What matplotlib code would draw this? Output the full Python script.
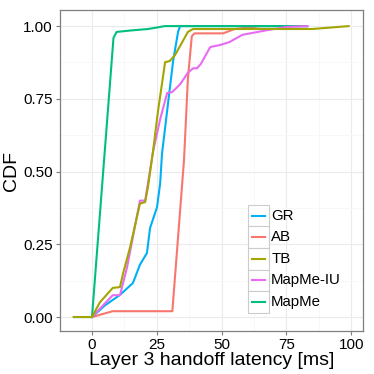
import numpy as np
import matplotlib.pyplot as plt
from matplotlib.patches import Rectangle

plt.rcParams['font.family'] = ['Liberation Sans', 'DejaVu Sans']

# CDF curves (latency in ms, cumulative fraction)
gr_x = [0, 5, 10.8, 15.8, 18.5, 21.2, 22.4, 25.1, 26.3, 27, 29, 31.3, 33.2, 34, 83]
gr_y = [0, 0.04, 0.076, 0.117, 0.18, 0.22, 0.306, 0.378, 0.46, 0.56, 0.71, 0.88, 0.98, 1.0, 1.0]

ab_x = [0, 8, 31, 35.5, 37, 38.5, 39.5, 50.6, 55, 65, 83]
ab_y = [0, 0.02, 0.02, 0.54, 0.82, 0.965, 0.975, 0.975, 0.99, 1.0, 1.0]

tb_x = [-7, 0, 3, 8, 10.8, 12, 14.7, 18.5, 20.5, 21.6, 23.6, 25.5, 28.2, 30, 32, 37, 39, 85, 99]
tb_y = [0, 0, 0.05, 0.1, 0.103, 0.15, 0.24, 0.39, 0.395, 0.447, 0.574, 0.71, 0.876, 0.88, 0.9, 0.98, 0.99, 0.99, 1.0]

iu_x = [0, 8, 10.8, 13.5, 18.5, 20.5, 23.6, 26.3, 29, 30.9, 34, 37, 39, 40.5, 42, 45.6, 49.4, 53, 58, 67.6, 75, 83]
iu_y = [0, 0.075, 0.075, 0.17, 0.40, 0.40, 0.57, 0.68, 0.77, 0.773, 0.80, 0.84, 0.855, 0.855, 0.87, 0.928, 0.935, 0.945, 0.97, 0.986, 0.997, 1.0]

mm_x = [-7, 0, 8.3, 9.5, 15, 21.6, 25, 28, 83]
mm_y = [0, 0, 0.96, 0.98, 0.985, 0.99, 0.995, 1.0, 1.0]

names = ['GR', 'AB', 'TB', 'MapMe-IU', 'MapMe']
colors = ['#00B0F6', '#F8766D', '#A3A500', '#E76BF3', '#00BF7D']
series = [(gr_x, gr_y), (ab_x, ab_y), (tb_x, tb_y), (iu_x, iu_y), (mm_x, mm_y)]

fig = plt.figure(figsize=(3.74, 3.74), dpi=100)
ax = fig.add_axes([0.160, 0.115, 0.811, 0.858])

# draw in ggplot order (alphabetical factor levels): AB, GR, MapMe, MapMe-IU, TB
order = [1, 0, 4, 3, 2]
for i in order:
    xs, ys = series[i]
    ax.plot(xs, ys, color=colors[i], lw=1.5, solid_joinstyle='round', zorder=3)

ax.set_xlim(-12.4, 104.6)
ax.set_ylim(-0.048, 1.055)
ax.set_xticks([0, 25, 50, 75, 100])
ax.set_yticks([0, 0.25, 0.5, 0.75, 1.0])
ax.set_yticklabels(['0.00', '0.25', '0.50', '0.75', '1.00'])
ax.set_xticks([12.5, 37.5, 62.5, 87.5], minor=True)
ax.set_yticks([0.125, 0.375, 0.625, 0.875], minor=True)
ax.grid(True, which='major', color='#EBEBEB', lw=0.8, zorder=0)
ax.grid(True, which='minor', color='#F7F7F7', lw=0.6, zorder=0)
ax.set_axisbelow(True)
ax.tick_params(which='major', length=3, width=0.8, color='#7F7F7F', labelsize=11, labelcolor='black', pad=2)
ax.tick_params(which='minor', length=0)
for s in ax.spines.values():
    s.set_color('#7F7F7F')
    s.set_linewidth(0.9)
ax.set_xlabel('Layer 3 handoff latency [ms]', fontsize=14, labelpad=0)
ax.set_ylabel('CDF', fontsize=14, labelpad=2)

# legend keys (ggplot style boxes)
kx, kw = 0.620, 0.069
ktop, kh = 0.393, 0.0673
for j, (name, c) in enumerate(zip(names, colors)):
    y0 = ktop - (j + 1) * kh
    ax.add_patch(Rectangle((kx, y0), kw, kh, transform=ax.transAxes, facecolor='white',
                           edgecolor='#CCCCCC', lw=0.8, zorder=5))
    ax.plot([kx + 0.012, kx + kw - 0.012], [y0 + kh / 2] * 2, transform=ax.transAxes,
            color=c, lw=1.5, zorder=6)
    ax.text(kx + kw + 0.008, y0 + kh / 2, name, transform=ax.transAxes, fontsize=10.8,
            va='center', ha='left', zorder=6)

plt.savefig('out.png', dpi=100)
plt.close()
